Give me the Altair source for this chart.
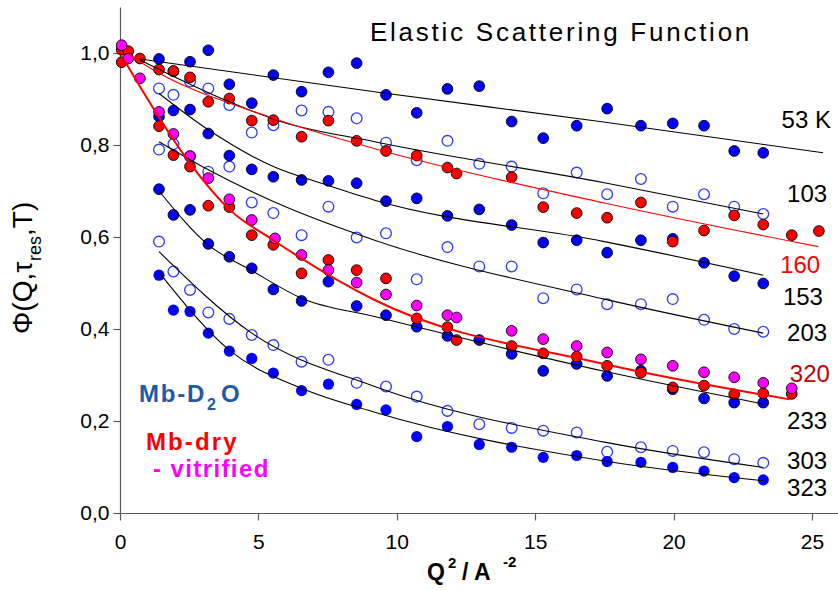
import altair as alt
import pandas as pd

FONT = "Liberation Sans, Arial, sans-serif"

# ---------------- data ----------------
q2 = [1.41, 1.93, 2.53, 3.19, 3.95, 4.76, 5.54, 6.56, 7.53, 8.55, 9.61, 10.72,
      11.83, 12.98, 14.15, 15.29, 16.5, 17.6, 18.82, 19.97, 21.1, 22.19, 23.24]

d2o_53 = [0.987, 0.960, 0.981, 1.006, 0.932, 0.891, 0.952, 0.916, 0.958, 0.978, 0.909, 0.870,
          0.922, 0.928, 0.851, 0.815, 0.842, 0.879, 0.842, 0.847, 0.842, 0.787, 0.783]
d2o_103 = [0.923, 0.909, 0.938, 0.923, 0.887, 0.827, 0.843, 0.875, 0.872, 0.858, 0.805, 0.767,
           0.809, 0.759, 0.753, 0.695, 0.740, 0.693, 0.726, 0.666, 0.693, 0.666, 0.650]
d2o_153 = [0.862, 0.875, 0.877, 0.825, 0.777, 0.747, 0.731, 0.724, 0.722, 0.717, 0.678, 0.684,
           0.646, 0.660, 0.626, 0.588, 0.593, 0.566, 0.593, 0.596, 0.544, 0.515, 0.499]
d2o_203 = [0.790, 0.802, 0.775, 0.742, 0.753, 0.675, 0.652, 0.604, 0.666, 0.599, 0.608, 0.508,
           0.578, 0.536, 0.536, 0.467, 0.486, 0.454, 0.454, 0.465, 0.420, 0.400, 0.394]
d2o_233 = [0.704, 0.648, 0.659, 0.585, 0.557, 0.532, 0.486, 0.461, 0.503, 0.450, 0.430, 0.405,
           0.385, 0.376, 0.346, 0.309, 0.324, 0.298, 0.309, 0.269, 0.249, 0.240, 0.240]
d2o_303 = [0.590, 0.525, 0.485, 0.436, 0.422, 0.387, 0.365, 0.329, 0.333, 0.283, 0.275, 0.253,
           0.222, 0.193, 0.185, 0.179, 0.175, 0.133, 0.143, 0.135, 0.132, 0.117, 0.109]
d2o_323 = [0.517, 0.441, 0.438, 0.391, 0.352, 0.336, 0.304, 0.266, 0.280, 0.236, 0.224, 0.166,
           0.188, 0.149, 0.143, 0.121, 0.125, 0.112, 0.110, 0.099, 0.091, 0.077, 0.072]

dry160_q2 = [0.06, 0.3, 0.72, 1.41, 1.93, 2.53, 3.19, 3.95, 4.76, 5.54, 6.56, 7.53, 8.55, 9.61,
             10.72, 11.83, 12.16, 14.15, 15.29, 16.5, 17.6, 18.82, 19.97, 21.1, 22.19, 23.24,
             24.27, 25.25]
dry160 = [1.007, 1.004, 0.988, 0.964, 0.961, 0.947, 0.894, 0.901, 0.853, 0.854, 0.818, 0.853,
          0.809, 0.787, 0.777, 0.751, 0.738, 0.730, 0.665, 0.652, 0.642, 0.675, 0.590, 0.614,
          0.647, 0.627, 0.604, 0.613]

dry320_q2 = [0.06, 1.41, 1.93, 2.53, 3.19, 3.95, 4.76, 5.54, 6.56, 7.53, 8.55, 9.61, 10.72,
             11.83, 12.16, 14.15, 15.29, 16.5, 17.6, 18.82, 19.97, 21.1, 22.19, 23.24, 24.27]
dry320 = [0.980, 0.841, 0.778, 0.753, 0.668, 0.665, 0.604, 0.583, 0.521, 0.550, 0.528, 0.510,
          0.423, 0.404, 0.376, 0.363, 0.347, 0.340, 0.320, 0.305, 0.273, 0.277, 0.258, 0.260,
          0.259]

vitr_q2 = [0.06, 0.3, 0.72, 1.41, 1.93, 2.53, 3.19, 3.95, 4.76, 5.6, 6.56, 7.53, 8.55, 9.61,
           10.72, 11.83, 12.16, 14.15, 15.29, 16.5, 17.6, 18.82, 19.97, 21.1, 22.19, 23.24, 24.27]
vitr = [1.017, 0.988, 0.945, 0.872, 0.824, 0.776, 0.728, 0.682, 0.637, 0.597, 0.561, 0.528,
        0.501, 0.475, 0.451, 0.430, 0.425, 0.396, 0.378, 0.363, 0.349, 0.334, 0.320, 0.306,
        0.295, 0.283, 0.271]

# fitted curves, read at a few points
fit_53_x = [0.72, 9.39, 17.34, 25.4]
fit_53_y = [0.987, 0.914, 0.851, 0.783]
fit_103_x = [0.72, 3.95, 5.66, 9.2, 17.5, 23.24]
fit_103_y = [0.985, 0.894, 0.854, 0.807, 0.718, 0.650]
fit_153_x = [1.41, 3.19, 5.54, 7.47, 9.2, 17.5, 23.24]
fit_153_y = [0.912, 0.833, 0.753, 0.713, 0.680, 0.590, 0.517]
fit_203_x = [1.41, 3.19, 5.54, 9.2, 17.5, 23.24]
fit_203_y = [0.807, 0.746, 0.677, 0.593, 0.465, 0.391]
fit_233_x = [1.41, 3.19, 4.76, 6.56, 9.2, 17.5, 23.24]
fit_233_y = [0.700, 0.583, 0.527, 0.467, 0.427, 0.308, 0.237]
fit_303_x = [1.41, 4.76, 9.2, 17.5, 23.24]
fit_303_y = [0.568, 0.391, 0.275, 0.154, 0.099]
fit_323_x = [1.44, 3.95, 6.56, 9.2, 17.5, 23.24]
fit_323_y = [0.521, 0.354, 0.271, 0.219, 0.113, 0.070]
fit_160_x = [0.3, 0.72, 5.54, 9.2, 17.5, 25.23]
fit_160_y = [0.998, 0.981, 0.858, 0.792, 0.674, 0.579]
fit_320_x = [0.1, 0.72, 2.53, 3.97, 5.54, 9.2, 17.5, 24.2]
fit_320_y = [0.990, 0.927, 0.760, 0.659, 0.593, 0.463, 0.324, 0.247]

label_text = ["53 K", "103", "160", "153", "203", "320", "233", "303", "323"]
label_x = [23.9, 24.1, 23.85, 23.95, 24.1, 24.2, 24.1, 24.1, 24.1]
label_y = [0.837, 0.677, 0.521, 0.452, 0.374, 0.284, 0.182, 0.095, 0.037]
label_color = ["black", "black", "#ff0000", "black", "black", "#c00000", "black", "black", "black"]

# ---------------- geometry of the plot area ----------------
LEFT, TOP, W, H = 120, 7, 718, 506
XMAX, YMAX = 25.94, 1.1


def dx_(px):
    return (px - LEFT) * XMAX / W


def dy_(py):
    return (TOP + H - py) * YMAX / H


def frame(xs, ys, name):
    return pd.DataFrame({"x": xs, "y": ys, "s": name})


filled_outlined = pd.concat([frame(q2, d2o_53, "53"), frame(q2, d2o_153, "153"),
                             frame(q2, d2o_233, "233")])
open_pts = pd.concat([frame(q2, d2o_103, "103"), frame(q2, d2o_203, "203"),
                      frame(q2, d2o_303, "303")])
plain_pts = frame(q2, d2o_323, "323")
red_pts = pd.concat([frame(dry160_q2, dry160, "160"), frame(dry320_q2, dry320, "320")])
mag_pts = frame(vitr_q2, vitr, "vitr")

black_fits = pd.concat([frame(fit_53_x, fit_53_y, "53"), frame(fit_103_x, fit_103_y, "103"),
                        frame(fit_153_x, fit_153_y, "153"), frame(fit_203_x, fit_203_y, "203"),
                        frame(fit_233_x, fit_233_y, "233"), frame(fit_303_x, fit_303_y, "303"),
                        frame(fit_323_x, fit_323_y, "323")])
red160_fit = frame(fit_160_x, fit_160_y, "160")
red320_fit = frame(fit_320_x, fit_320_y, "320")
labels = pd.DataFrame({"x": label_x, "y": label_y, "t": label_text, "c": label_color})

# ---------------- encodings ----------------
AXC = "#5a5a5a"
xaxis = alt.Axis(values=[0, 5, 10, 15, 20, 25], title=None, grid=False, domainColor=AXC,
                 tickColor=AXC, tickSize=7, domainWidth=1.2, tickWidth=1.2,
                 labelFont=FONT, labelFontSize=21, labelColor="black", labelPadding=11,
                 labelFlush=False)
yaxis = alt.Axis(values=[0, 0.2, 0.4, 0.6, 0.8, 1.0], title=None, grid=False,
                 domainColor=AXC, tickColor=AXC, tickSize=7, domainWidth=1.2, tickWidth=1.2,
                 labelFont=FONT, labelFontSize=21, labelColor="black", labelPadding=4,
                 labelExpr="replace(format(datum.value, '.1f'), '.', ',')")
X = alt.X("x:Q", scale=alt.Scale(domain=[0, XMAX], nice=False, zero=False), axis=xaxis)
Y = alt.Y("y:Q", scale=alt.Scale(domain=[0, YMAX], nice=False, zero=False), axis=yaxis)

SIZE = 115

l_filled = alt.Chart(filled_outlined).mark_point(
    shape="circle", filled=True, size=SIZE, fill="#0000ff", stroke="black",
    strokeWidth=0.9, opacity=1).encode(x=X, y=Y)
l_open = alt.Chart(open_pts).mark_point(
    shape="circle", filled=False, size=SIZE, stroke="#2a3cff", strokeWidth=1.3,
    opacity=1).encode(x=X, y=Y)
l_plain = alt.Chart(plain_pts).mark_point(
    shape="circle", filled=True, size=SIZE + 10, fill="#0000ff", strokeWidth=0,
    opacity=1).encode(x=X, y=Y)
l_red = alt.Chart(red_pts).mark_point(
    shape="circle", filled=True, size=SIZE, fill="#ff0000", stroke="black",
    strokeWidth=0.9, opacity=1).encode(x=X, y=Y)
l_mag = alt.Chart(mag_pts).mark_point(
    shape="circle", filled=True, size=SIZE, fill="#ff00ff", stroke="black",
    strokeWidth=0.9, opacity=1).encode(x=X, y=Y)

l_black = alt.Chart(black_fits).mark_line(
    color="black", strokeWidth=1.1, interpolate="monotone").encode(
    x=X, y=Y, detail="s:N")
l_r160 = alt.Chart(red160_fit).mark_line(
    color="#ff0000", strokeWidth=1.1, interpolate="monotone").encode(x=X, y=Y)
l_r320 = alt.Chart(red320_fit).mark_line(
    color="#ff0000", strokeWidth=2, interpolate="monotone").encode(x=X, y=Y)

l_labels = alt.Chart(labels).mark_text(
    font=FONT, fontSize=24, align="left", baseline="alphabetic").encode(
    x=X, y=Y, text="t:N", color=alt.Color("c:N", scale=None))

# Arial / Liberation Sans advance widths (per 1000 em) for letter-spaced text
W_REG = {" ": 278, "-": 333, ",": 278, "(": 333, ")": 333, "/": 278,
         "E": 667, "F": 611, "S": 667, "a": 556, "c": 500, "e": 556, "g": 556, "i": 222,
         "l": 222, "n": 556, "o": 556, "r": 333, "s": 500, "t": 278, "u": 556}
W_BOLD = {" ": 278, "-": 333, "2": 556, "D": 722, "M": 833, "O": 778, "b": 611, "d": 611,
          "e": 556, "f": 333, "i": 278, "r": 389, "t": 333, "v": 556, "y": 556}


def spaced(text, px0, base, size, color="black", bold=False, spacing=0.0):
    table = W_BOLD if bold else W_REG
    xs, x = [], px0
    for ch in text:
        xs.append(dx_(x))
        x += table.get(ch, 556) * size / 1000.0 + spacing
    df = pd.DataFrame({"x": xs, "y": dy_(base), "t": list(text)})
    return alt.Chart(df).mark_text(
        font=FONT, fontSize=size, fontWeight="bold" if bold else "normal", align="left",
        baseline="alphabetic", color=color).encode(x=X, y=Y, text="t:N")


def txt(text, px, py, size, color="black", bold=False, angle=0):
    kw = dict(font=FONT, fontSize=size, align="left", baseline="alphabetic", color=color)
    kw["fontWeight"] = "bold" if bold else "normal"
    if angle:
        kw["angle"] = angle
    df = pd.DataFrame({"x": [dx_(px)], "y": [dy_(py)], "t": [text]})
    return alt.Chart(df).mark_text(**kw).encode(x=X, y=Y, text="t:N")


D2O_BLUE = "#1f5aa6"
annotations = [
    spaced("Elastic Scattering Function", 370, 41, 26, spacing=2.75),
    spaced("Mb-D", 139, 402, 24, color=D2O_BLUE, bold=True, spacing=1.8),
    txt("2", 207, 410, 16, color=D2O_BLUE, bold=True),
    txt("O", 221, 402, 24, color=D2O_BLUE, bold=True),
    spaced("Mb-dry", 146, 450, 24, color="#ff0000", bold=True, spacing=2.1),
    spaced("- vitrified", 153, 477, 24, color="#ff00ff", bold=True, spacing=1.4),
    # x-axis title
    txt("Q", 427, 580, 23, bold=True),
    txt("2", 448, 568, 15, bold=True),
    txt("/ A", 462, 580, 23, bold=True),
    txt("-2", 503, 567, 15, bold=True),
    # y-axis title (rotated)
    txt("\u03a6(Q,\u03c4", 32, 334, 28, angle=270),
    txt("res", 41, 261, 18, angle=270),
    txt(",T)", 32, 236, 28, angle=270),
]

chart = alt.layer(l_open, l_filled, l_plain, l_red, l_mag, l_black, l_r160, l_r320,
                  l_labels, *annotations).properties(
    width=W, height=H,
    autosize=alt.AutoSizeParams(type="none"),
    padding={"left": LEFT, "top": TOP, "right": 838 - LEFT - W, "bottom": 590 - TOP - H},
    background="white",
).configure_view(stroke=None)

chart.save("out.html", embed_options={"renderer": "svg", "actions": False})
